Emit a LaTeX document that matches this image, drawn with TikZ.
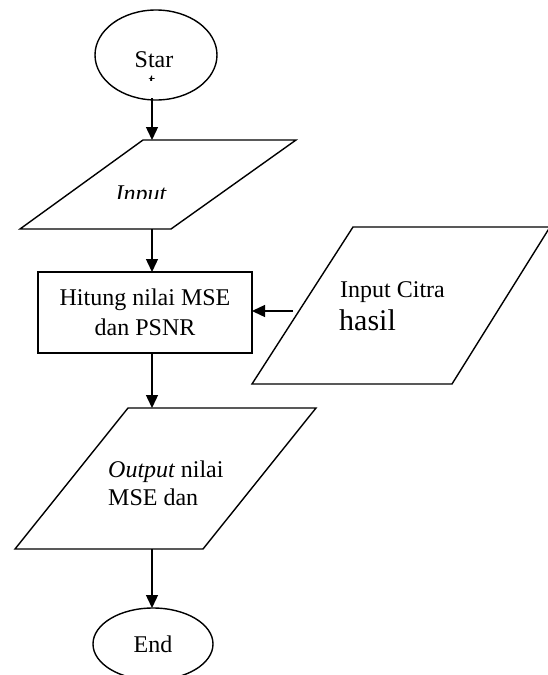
\documentclass[tikz,border=0pt]{standalone}
\usepackage{fontspec}
\setmainfont{Liberation Serif}
\usetikzlibrary{arrows.meta,shapes.geometric}
\tikzset{
  flow/.style={line width=1.4pt},
  conn/.style={flow,-{Triangle[length=13pt,width=12pt]}},
  lbl/.style={inner sep=0pt,font=\fontsize{24}{26}\selectfont},
}
\begin{document}
\begin{tikzpicture}[x=1pt,y=-1pt]
\useasboundingbox (0,0) rectangle (548,675);
\begin{scope}
\clip (0,0) rectangle (548,675);
% Start
\node[flow,draw,ellipse,minimum width=122pt,minimum height=90pt,inner sep=0pt] (start) at (156,55) {};
\node[lbl,anchor=base] (starttxt) at (154,67) {Star};
\begin{scope}
\clip (140,70) rectangle (170,80);
\node[lbl,anchor=base] (starttxt2) at (152,89) {t};
\end{scope}
\coordinate (startbot) at (152,98);
% Input parallelogram
\draw[flow] (20,229) -- (143,140) -- (296,140) -- (171,229) -- cycle;
\coordinate (intop) at (152,140);
\coordinate (inbot) at (152,229);
\begin{scope}
\clip (100,170) rectangle (200,198.5);
\node[lbl,anchor=base] (intxt) at (141,201) {\itshape Input};
\end{scope}
% Process box
\node[flow,draw,rectangle,minimum width=214pt,minimum height=81pt,inner sep=0pt] (proc) at (145,312.5) {};
\node[lbl,anchor=base] (proct1) at (145,305) {Hitung nilai MSE};
\node[lbl,anchor=base] (proct2) at (145,335) {dan PSNR};
\coordinate (proctop) at (152,272);
\coordinate (procbot) at (152,353);
\coordinate (procright) at (252,311);
% Right input parallelogram
\draw[flow] (252,384) -- (353,227) -- (550,227) -- (452,384) -- cycle;
\coordinate (rin) at (293,311);
\node[lbl,anchor=base west] (rt1) at (340,297) {Input Citra};
\node[inner sep=0pt,font=\fontsize{30}{32}\selectfont,anchor=base west] (rt2) at (339,330) {hasil};
% Output parallelogram
\draw[flow] (15,549) -- (128,408) -- (316,408) -- (203,549) -- cycle;
\coordinate (outtop) at (152,408);
\coordinate (outbot) at (152,549);
\node[lbl,anchor=base west] (ot1) at (108,477) {\itshape Output\upshape{} nilai};
\node[lbl,anchor=base west] (ot2) at (108,505) {MSE dan};
% End
\node[flow,draw,ellipse,minimum width=120pt,minimum height=72pt,inner sep=0pt] (end) at (153,644) {};
\node[lbl,anchor=base] (endtxt) at (153,652) {End};
\coordinate (endtop) at (152,608);
% Connectors
\draw[conn] (startbot) -- (intop);
\draw[conn] (inbot) -- (proctop);
\draw[conn] (rin) -- (procright);
\draw[conn] (procbot) -- (outtop);
\draw[conn] (outbot) -- (endtop);
\end{scope}
\end{tikzpicture}
\end{document}
